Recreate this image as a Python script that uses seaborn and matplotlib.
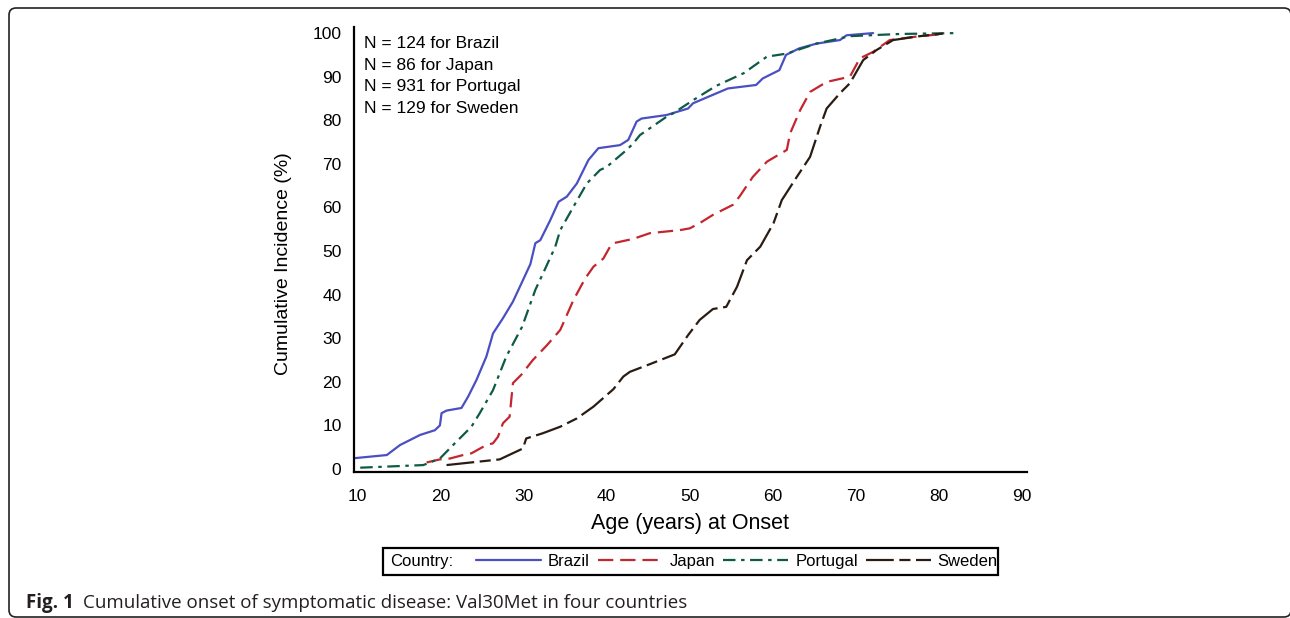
import numpy as np
import pandas as pd
import matplotlib
matplotlib.use("Agg")
import matplotlib.pyplot as plt
import seaborn as sns
from matplotlib.patches import Rectangle, FancyBboxPatch
from matplotlib import font_manager

# ---------------- data ----------------
countries = ["Brazil", "Japan", "Portugal", "Sweden"]

brazil_age = [9.7, 13.5, 15.1, 17.5, 19.3, 19.9, 20.1, 20.7, 22.5, 23.3, 24.3, 25.5, 26.3, 27.5,
              28.7, 29.9, 30.8, 31.4, 32.0, 33.2, 34.2, 35.2, 36.4, 37.8, 39.0, 41.6, 42.6, 43.6,
              44.2, 47.2, 49.8, 50.4, 54.6, 58.0, 58.8, 60.8, 61.6, 63.2, 65.3, 68.1, 68.9, 72.1]
brazil_cum = [2.5, 3.2, 5.5, 7.8, 8.9, 10.0, 12.8, 13.4, 14.0, 16.6, 20.4, 25.8, 31.1, 34.6,
              38.4, 43.3, 47.0, 51.8, 52.5, 57.1, 61.3, 62.5, 65.5, 70.9, 73.6, 74.3, 75.5, 79.7,
              80.4, 81.2, 82.7, 83.9, 87.3, 88.1, 89.6, 91.5, 95.0, 96.5, 97.6, 98.4, 99.5, 100.0]

japan_age = [18.3, 19.9, 21.1, 23.1, 23.7, 25.5, 26.3, 26.9, 27.5, 28.3, 28.7, 29.7, 31.1, 32.8,
             34.4, 36.0, 37.4, 38.4, 39.6, 40.4, 40.8, 43.2, 45.2, 48.8, 50.0, 51.2, 52.8, 55.2,
             56.0, 57.6, 59.3, 61.7, 62.1, 63.3, 64.5, 66.5, 69.3, 70.5, 72.1, 74.1, 77.3, 80.5]
japan_cum = [1.5, 2.2, 2.4, 3.4, 3.6, 5.5, 5.9, 7.4, 10.5, 12.0, 19.7, 21.6, 25.0, 28.4,
             31.9, 38.8, 43.7, 46.4, 48.3, 51.0, 51.8, 52.8, 54.1, 54.8, 55.2, 56.4, 58.3, 60.6,
             62.5, 67.0, 70.5, 73.2, 77.0, 82.3, 86.5, 88.8, 90.0, 94.2, 95.7, 98.4, 99.2, 99.8]

portugal_age = [10.3, 17.9, 19.9, 21.7, 23.7, 24.7, 26.3, 27.9, 29.8, 31.4, 32.6, 33.8, 34.4, 36.0,
                37.6, 39.2, 40.0, 42.4, 43.2, 44.0, 47.2, 48.0, 50.4, 52.0, 53.2, 56.5, 59.3, 61.7,
                65.3, 69.3, 75.3, 82.0]
portugal_cum = [0.3, 0.9, 2.4, 5.9, 9.7, 12.8, 18.1, 25.8, 32.6, 41.1, 46.0, 51.0, 54.8, 60.2,
                65.5, 68.6, 69.3, 73.2, 74.7, 76.6, 80.8, 81.6, 84.6, 86.5, 87.9, 90.8, 94.6, 95.3,
                97.6, 99.3, 99.8, 100.0]

sweden_age = [20.7, 27.1, 29.9, 30.3, 32.3, 34.4, 36.4, 38.4, 40.8, 42.0, 42.8, 45.4, 48.2, 49.8,
              51.2, 52.8, 54.4, 55.7, 56.9, 58.5, 60.1, 61.1, 62.9, 64.5, 65.7, 66.5, 68.1, 69.3,
              70.9, 72.5, 74.5, 77.3, 80.5]
sweden_cum = [0.9, 2.2, 4.7, 7.0, 8.2, 9.7, 11.6, 14.3, 18.3, 21.2, 22.3, 24.2, 26.3, 30.7,
              34.2, 36.7, 37.2, 41.8, 47.9, 51.0, 56.4, 61.7, 67.0, 71.6, 78.5, 82.7, 86.2, 88.5,
              93.8, 96.1, 98.4, 99.2, 99.9]

n_labels = ["N = 124 for Brazil", "N = 86 for Japan", "N = 931 for Portugal", "N = 129 for Sweden"]
x_ticks = [10, 20, 30, 40, 50, 60, 70, 80, 90]
y_ticks = [0, 10, 20, 30, 40, 50, 60, 70, 80, 90, 100]

frames = []
for name, a, c in [("Brazil", brazil_age, brazil_cum), ("Japan", japan_age, japan_cum),
                   ("Portugal", portugal_age, portugal_cum), ("Sweden", sweden_age, sweden_cum)]:
    frames.append(pd.DataFrame({"age": a, "cum": c, "Country": name}))
df = pd.concat(frames, ignore_index=True)

# ---------------- style ----------------
sns.set_theme(style="white")
avail = {f.name for f in font_manager.fontManager.ttflist}
main_font = "Liberation Sans" if "Liberation Sans" in avail else "DejaVu Sans"
cap_font = "Open Sans" if "Open Sans" in avail else main_font
plt.rcParams["font.family"] = [main_font, "DejaVu Sans"]
plt.rcParams["lines.scale_dashes"] = False
for k in ["text.color", "axes.labelcolor", "xtick.color", "ytick.color"]:
    plt.rcParams[k] = "black"

palette = {"Brazil": "#4a4fc2", "Japan": "#c3262e", "Portugal": "#0e5a46", "Sweden": "#2a1c12"}
dashes = {"Brazil": "", "Japan": (11, 5), "Portugal": (9, 4, 2.5, 4), "Sweden": (20, 4, 8, 4)}

W, H = 1290, 618
fig = plt.figure(figsize=(W / 100, H / 100), dpi=100)
ax = fig.add_axes([354 / W, 1 - 472 / H, (1027 - 354) / W, (472 - 27) / H])

sns.lineplot(data=df, x="age", y="cum", hue="Country", style="Country",
             hue_order=countries, style_order=countries,
             palette=palette, dashes=dashes, estimator=None, sort=False,
             linewidth=1.6, legend=False, ax=ax)

ax.set_xlim(9.55, 90.64)
ax.set_ylim(-0.69, 101.4)
ax.set_xticks(x_ticks)
ax.set_yticks(y_ticks)
ax.tick_params(axis="x", labelsize=12.5, length=6, width=1.6, direction="out", pad=6, color="black")
ax.tick_params(axis="y", labelsize=12.5, length=6, width=1.6, direction="out", pad=3, color="black")
for s in ["top", "right"]:
    ax.spines[s].set_visible(False)
for s in ["left", "bottom"]:
    ax.spines[s].set_linewidth(1.6)
    ax.spines[s].set_color("black")
ax.set_xlabel("Age (years) at Onset", fontsize=15.5)
ax.set_ylabel("Cumulative Incidence (%)", fontsize=14)
ax.xaxis.set_label_coords((690 - 354) / 673, (472 - 523) / 445)
ax.yaxis.set_label_coords((283 - 354) / 673, (472 - 264) / 445)
ax.yaxis.label.set_va("center")
ax.xaxis.label.set_va("center")
ax.grid(False)

for i, t in enumerate(n_labels):
    fig.text(364 / W, 1 - (44 + i * 21.5) / H, t, fontsize=12.5, va="center", ha="left")

# legend
lines = ax.get_lines()[:4]
fig.text(390 / W, 1 - 561.5 / H, "Country:", fontsize=12, va="center", ha="left")
leg = fig.legend(lines, countries, loc="center", bbox_to_anchor=(737 / W, 1 - 561.5 / H),
                 ncol=4, frameon=False, fontsize=12, handlelength=3.9, handletextpad=0.4,
                 columnspacing=0.5, borderpad=0.1)
fig.patches.append(Rectangle((383 / W, 1 - 575 / H), (998 - 383) / W, 27 / H,
                             transform=fig.transFigure, fill=False, edgecolor="black",
                             linewidth=1.6))

# outer rounded frame
fig.patches.append(FancyBboxPatch((9 / W, 1 - 617 / H), (1291 - 9) / W, (617 - 8) / H,
                                  boxstyle="round,pad=0,rounding_size=0.0055",
                                  transform=fig.transFigure, fill=False,
                                  edgecolor="#222222", linewidth=1.2, mutation_aspect=W / H))

# caption
fig.text(26 / W, 1 - 603 / H, "Fig. 1", fontsize=13.5, fontweight="bold", va="center",
         ha="left", color="#231f20", family=[cap_font, "DejaVu Sans"])
fig.text(83 / W, 1 - 603 / H,
         "Cumulative onset of symptomatic disease: Val30Met in four countries",
         fontsize=13.5, va="center", ha="left", color="#231f20", family=[cap_font, "DejaVu Sans"])

fig.savefig("out.png", dpi=100)
